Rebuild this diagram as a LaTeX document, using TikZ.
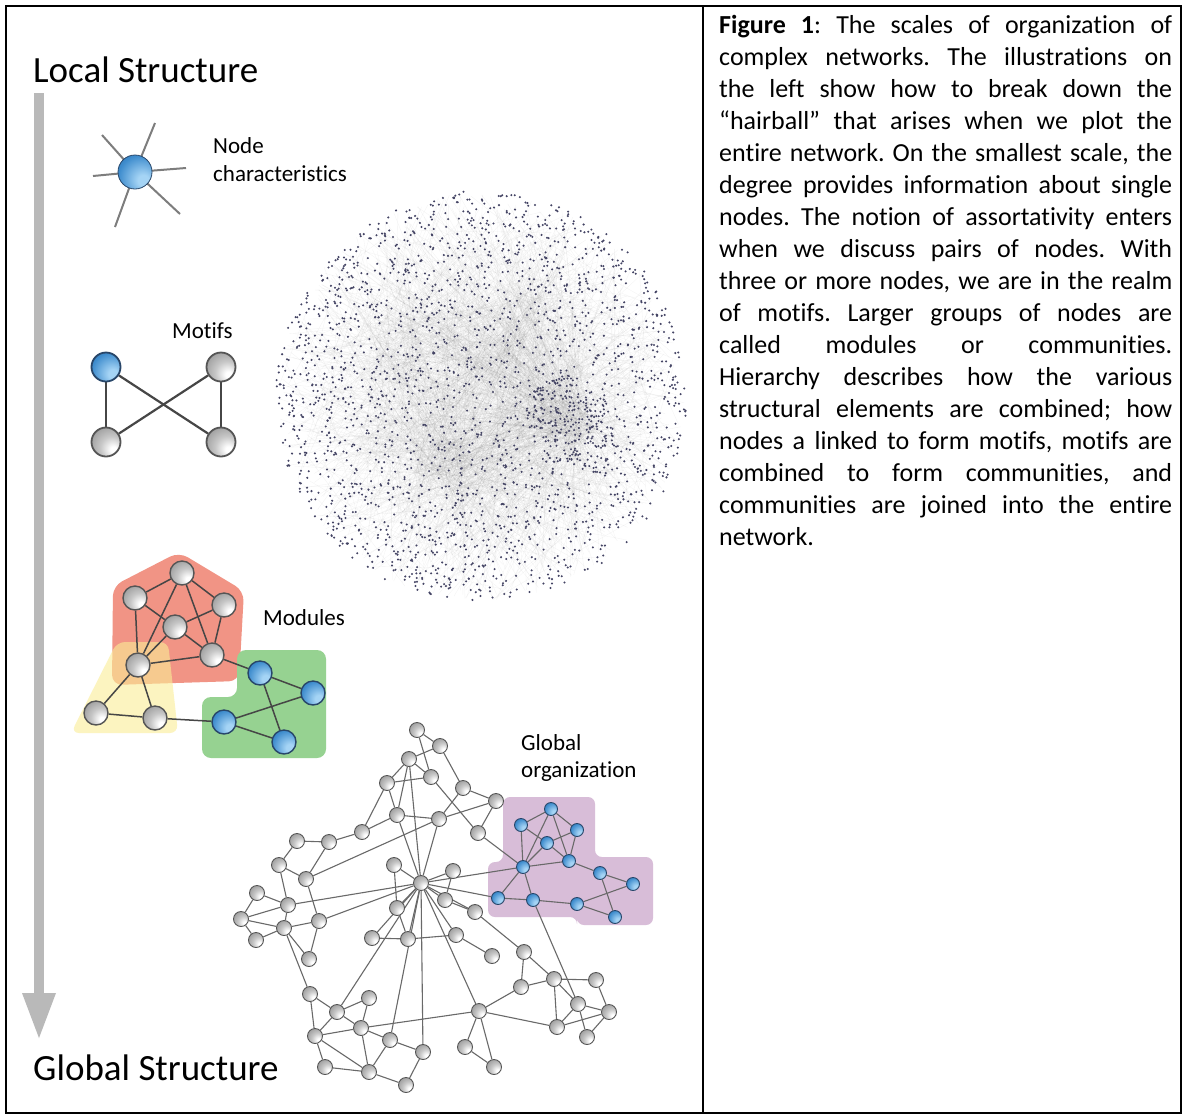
\documentclass[tikz,border=0pt]{standalone}
\usepackage{fontspec}
\setmainfont{Carlito}[Ligatures=NoCommon]
\frenchspacing
\definecolor{arrowgray}{RGB}{185,185,185}
\definecolor{spokec}{RGB}{125,125,125}
\definecolor{edgedark}{RGB}{70,70,70}
\definecolor{edgemid}{RGB}{105,105,105}
\definecolor{ballrim}{RGB}{85,85,85}
\definecolor{bluerim}{RGB}{40,70,105}
\definecolor{bhl}{RGB}{165,212,245}
\definecolor{bmid}{RGB}{62,140,205}
\definecolor{bdk}{RGB}{28,82,140}
\definecolor{modred}{RGB}{241,148,133}
\definecolor{modyel}{RGB}{250,238,150}
\definecolor{modgrn}{RGB}{150,210,145}
\definecolor{modpur}{RGB}{216,189,216}
\definecolor{hbdotc}{RGB}{68,68,100}
\pgfdeclareradialshading{gball}{\pgfqpoint{14bp}{-14bp}}{color(0bp)=(white); color(5bp)=(white); color(20bp)=(black!22); color(38bp)=(black!40); color(54bp)=(black!52); color(70bp)=(black!60)}
\pgfdeclareradialshading{bball}{\pgfqpoint{14bp}{-14bp}}{color(0bp)=(bhl); color(8bp)=(bhl); color(32bp)=(bmid); color(52bp)=(bdk!70!bmid); color(70bp)=(bdk)}
\pgfdeclarelayer{back}
\pgfdeclarelayer{edges}
\pgfsetlayers{back,edges,main}
\begin{document}
\begin{tikzpicture}[x=1pt,y=-1pt,
  frame/.style={line width=2pt, draw=black},
  gnode/.style={circle, inner sep=0pt, shading=gball, draw=ballrim},
  bnode/.style={circle, inner sep=0pt, shading=bball, draw=bluerim},
  starball/.style={minimum size=34pt, line width=0.8pt},
  motifball/.style={minimum size=29pt, line width=1.8pt},
  modball/.style={minimum size=24pt, line width=1.4pt},
  globball/.style={minimum size=15pt, line width=0.9pt},
  globblue/.style={minimum size=13pt, line width=0.9pt},
  spoke/.style={draw=spokec, line width=2pt},
  motifedge/.style={draw=edgedark, line width=2.2pt},
  modedge/.style={draw=edgedark, line width=1.5pt},
  globedge/.style={draw=edgemid, line width=1.1pt},
  hbedge/.style={draw=black!70, line width=0.35pt, opacity=0.06},
  hbdot/.style={fill=hbdotc},
  bigtitle/.style={anchor=base west, inner sep=0pt, font=\fontsize{37}{44}\selectfont},
  label/.style={anchor=base west, inner sep=0pt, font=\fontsize{23}{28}\selectfont}
]
\useasboundingbox (0,0) rectangle (1182,1114);
\begin{pgfonlayer}{back}
\fill[white] (0,0) rectangle (1182,1114);
\end{pgfonlayer}

% ---------- frame ----------
\draw[frame] (6,6) rectangle (1180.5,1112.5);
\draw[frame] (702.5,6) -- (702.5,1112.5);

% ---------- titles and arrow ----------
\node[bigtitle] (tlocal) at (33,82) {Local Structure};
\node[bigtitle] (tglobal) at (33,1080) {Global Structure};
\fill[arrowgray] (34,93) rectangle (43.5,994);
\fill[arrowgray] (22,993) -- (56,993) -- (39,1038) -- cycle;

% ---------- node characteristics ----------
\coordinate (s1) at (102,135);
\coordinate (s2) at (155,123);
\coordinate (s3) at (93,176);
\coordinate (s4) at (186,168);
\coordinate (s5) at (180,214);
\coordinate (s6) at (115,227);
\node[bnode, starball] (star) at (135,172) {};
\begin{pgfonlayer}{edges}
\foreach \s in {s1,s2,s3,s4,s5,s6} \draw[spoke] (star.center) -- (\s);
\end{pgfonlayer}
\node[label] (lblnode) at (213,153) {Node};
\node[label] (lblchar) at (213,181) {characteristics};

% ---------- motifs ----------
\node[label] (lblmotif) at (172,338) {Motifs};
\node[bnode, motifball] (mtl) at (106,367) {};
\node[gnode, motifball] (mtr) at (221,367) {};
\node[gnode, motifball] (mbl) at (106,442) {};
\node[gnode, motifball] (mbr) at (221,442) {};
\begin{pgfonlayer}{edges}
\foreach \a/\b in {mtl/mbl, mtr/mbr, mtl/mbr, mbl/mtr} \draw[motifedge] (\a) -- (\b);
\end{pgfonlayer}

% ---------- hairball (drawn directly) ----------
\begin{pgfonlayer}{back}
\pgfmathsetseed{2718}
\foreach \hx/\hy/\hn/\hr in {570/420/480/28, 443/467/300/30, 530/317/220/30, 400/330/140/35}{
  \foreach \k in {1,...,\hn}{
    \pgfmathsetmacro\rj{\hr*sqrt(rnd)}\pgfmathsetmacro\aj{360*rnd}
    \pgfmathsetmacro\ra{204*sqrt(rnd)}\pgfmathsetmacro\aa{360*rnd}
    \draw[hbedge] ({\hx+\rj*cos(\aj)},{\hy+\rj*sin(\aj)}) -- ({481+\ra*cos(\aa)},{397+\ra*sin(\aa)});
  }
}
\foreach \k in {1,...,700}{
  \pgfmathsetmacro\ra{204*sqrt(rnd)}\pgfmathsetmacro\aa{360*rnd}
  \pgfmathsetmacro\rb{204*sqrt(rnd)}\pgfmathsetmacro\ab{360*rnd}
  \draw[hbedge] ({481+\ra*cos(\aa)},{397+\ra*sin(\aa)}) -- ({481+\rb*cos(\ab)},{397+\rb*sin(\ab)});
}
\foreach \k in {1,...,2300}{
  \pgfmathsetmacro\ra{206*(rnd)^0.45}\pgfmathsetmacro\aa{360*rnd}
  \fill[hbdot] ({481+\ra*cos(\aa)},{397+\ra*sin(\aa)}) circle (1.15);
}
\foreach \k in {1,...,160}{
  \pgfmathsetmacro\ra{45*sqrt(rnd)}\pgfmathsetmacro\aa{360*rnd}
  \fill[hbdot] ({570+\ra*cos(\aa)},{420+\ra*sin(\aa)}) circle (1.15);
}
\end{pgfonlayer}

% ---------- modules ----------
\node[label] (lblmod) at (263,625) {Modules};
\begin{pgfonlayer}{back}
\fill[modred, rounded corners=10pt] (113,586) -- (179,552) -- (244,591) -- (239,681) -- (112,685) -- cycle;
\fill[modyel, opacity=0.6, rounded corners=8pt] (117,642) -- (168,642) -- (178,733) -- (71,733) -- cycle;
\fill[modgrn, rounded corners=9pt] (237,650) -- (326,650) -- (326,758) -- (202,758) -- (202,697) -- (237,697) -- cycle;
\end{pgfonlayer}
\foreach \n/\x/\y in {m1/182/573, m2/135/598, m3/224/605, m4/175/627, m5/138/665, m6/212/655, m7/96/713, m8/155/718}
  \node[gnode, modball] (\n) at (\x,\y) {};
\foreach \n/\x/\y in {mb1/260/673, mb2/313/693, mb3/224/722, mb4/284/742}
  \node[bnode, modball] (\n) at (\x,\y) {};
\begin{pgfonlayer}{edges}
\foreach \a/\b in {m1/m2, m1/m3, m1/m5, m1/m6, m4/m2, m4/m3, m4/m5, m4/m6, m2/m5, m3/m6, m5/m6, m5/m7, m5/m8, m7/m8, m8/mb3, m6/mb1, mb1/mb2, mb1/mb4, mb3/mb2, mb3/mb4}
  \draw[modedge] (\a) -- (\b);
\end{pgfonlayer}

% ---------- global organization ----------
\node[label] (lblglob1) at (521,750) {Global};
\node[label] (lblglob2) at (521,777) {organization};
\begin{pgfonlayer}{back}
\fill[modpur, rounded corners=7pt] (503,797) -- (595,797) -- (595,857) -- (653,857) -- (653,925) -- (577,925) -- (577,917) -- (488,917) -- (488,862) -- (503,862) -- cycle;
\end{pgfonlayer}
\foreach \n/\x/\y in {g1/417/730, g2/440/746, g3/409/759, g4/431/777, g5/387/783, g6/463/788, g7/496/801, g8/397/815, g9/439/819, g10/362/832, g11/478/833, g12/297/841, g13/329/842, g14/279/865, g15/394/865, g16/453/871, g17/306/879, hub/421/883, g19/257/893, g20/288/905, g21/445/900, g22/397/908, g23/475/912, g24/241/919, g25/319/921, g26/284/928, g27/256/940, g28/372/938, g29/408/939, g30/456/935, g31/492/956, g32/309/959, g33/524/952, g34/310/994, g35/369/998, g36/337/1012, g37/521/987, g38/554/979, g39/596/980, g40/578/1004, g41/479/1011, g42/609/1012, g43/361/1028, g44/315/1036, g45/557/1027, g46/390/1040, g47/587/1037, g48/465/1047, g49/423/1052, g50/325/1067, g51/369/1072, g52/494/1067, g53/406/1085}
  \node[gnode, globball] (\n) at (\x,\y) {};
\foreach \n/\x/\y in {b1/551/809, b2/521/825, b3/577/830, b4/547/843, b5/523/867, b6/569/861, b7/600/873, b8/633/884, b9/498/898, b10/533/900, b11/577/904, b12/615/917}
  \node[bnode, globblue] (\n) at (\x,\y) {};
\begin{pgfonlayer}{edges}
\foreach \a/\b in {g1/g2, g1/g4, g2/g3, g2/g6, g3/g4, g3/g5, g3/g8, g3/hub, g4/g5, g4/g11, g5/g8, g5/g10, g6/g7, g6/g9, g7/g9, g7/g11, g8/g9, g8/g10, g8/hub, g9/hub, g9/g17, g10/g13, g11/b5, g12/g13, g12/g14, g13/g17, g14/g17, g14/g20, g17/g25, g15/hub, g15/g22, g16/hub, g16/g21, g19/g20, g19/g24, g20/g24, g20/g26, g20/hub, g24/g26, g24/g27, g26/g27, g26/g25, g25/hub, g25/g32, g26/g32, g26/g34, hub/g21, hub/g22, hub/g23, hub/g28, hub/g29, hub/g30, hub/g36, hub/g46, hub/g49, hub/g41, hub/b9, hub/b5, g21/g23, g22/g29, g23/g33, g28/g29, g29/g30, g30/g31, g33/g37, g33/g38, g37/g38, g37/g41, g38/g39, g38/g40, g38/g45, g39/g42, g40/g42, g40/g45, g40/g47, g42/g45, g42/g47, g41/g45, g41/g43, g41/g48, g41/g52, g48/g52, g34/g36, g34/g44, g35/g36, g35/g43, g36/g43, g36/g44, g43/g44, g43/g46, g43/g51, g44/g50, g44/g51, g50/g51, g51/g53, g46/g51, g46/g49, g49/g53, b10/g40}
  \draw[globedge] (\a) -- (\b);
\foreach \a/\b in {b1/b2, b1/b3, b1/b5, b1/b6, b2/b4, b2/b5, b3/b4, b3/b6, b4/b6, b4/b5, b5/b6, b5/b9, b5/b10, b6/b7, b7/b8, b7/b12, b8/b11, b9/b10, b10/b11, b11/b12}
  \draw[globedge] (\a) -- (\b);
\end{pgfonlayer}

% ---------- caption ----------
\node[anchor=base west, inner sep=0pt] (caption) at (719,33) {%
\begin{minipage}[t]{453pt}\fontsize{26}{32}\selectfont\setlength{\parindent}{0pt}%
\makebox[453pt][s]{\textbf{Figure 1}: The scales of organization of}\\
\makebox[453pt][s]{complex networks. The illustrations on}\\
\makebox[453pt][s]{the left show how to break down the}\\
\makebox[453pt][s]{“hairball” that arises when we plot the}\\
\makebox[453pt][s]{entire network. On the smallest scale, the}\\
\makebox[453pt][s]{degree provides information about single}\\
\makebox[453pt][s]{nodes. The notion of assortativity enters}\\
\makebox[453pt][s]{when we discuss pairs of nodes. With}\\
\makebox[453pt][s]{three or more nodes, we are in the realm}\\
\makebox[453pt][s]{of motifs. Larger groups of nodes are}\\
\makebox[453pt][s]{called modules or communities.}\\
\makebox[453pt][s]{Hierarchy describes how the various}\\
\makebox[453pt][s]{structural elements are combined; how}\\
\makebox[453pt][s]{nodes a linked to form motifs, motifs are}\\
\makebox[453pt][s]{combined to form communities, and}\\
\makebox[453pt][s]{communities are joined into the entire}\\
network.
\end{minipage}};
\end{tikzpicture}
\end{document}
